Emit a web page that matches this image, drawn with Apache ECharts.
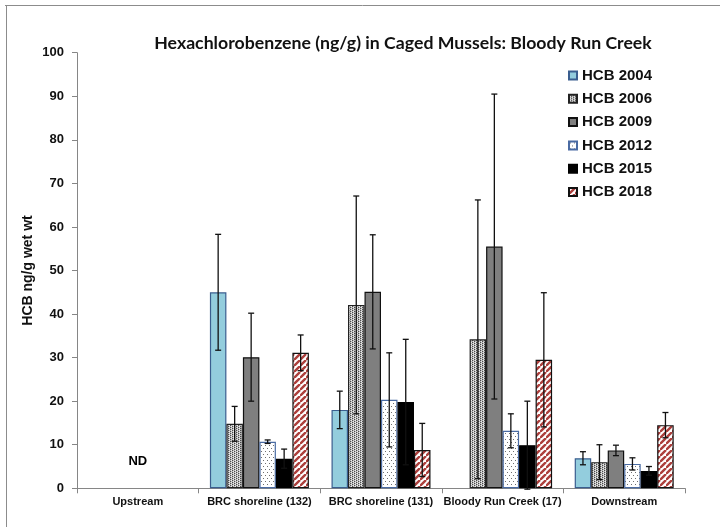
<!DOCTYPE html>
<html>
<head>
<meta charset="utf-8">
<script src="https://cdn.jsdelivr.net/npm/echarts@6/dist/echarts.min.js"></script>
<style>
  html, body { margin: 0; padding: 0; background: #ffffff; }
  #chart { width: 720px; height: 527px; }
</style>
</head>
<body>
<div id="chart"></div>
<script>
// Sampling sites along the creek
const categories = ['Upstream', 'BRC shoreline (132)', 'BRC shoreline (131)', 'Bloody Run Creek (17)', 'Downstream'];
const years = ['HCB 2004', 'HCB 2006', 'HCB 2009', 'HCB 2012', 'HCB 2015', 'HCB 2018'];

// Mean HCB concentration (ng/g wet wt); null = no sample
const hcb2004 = [null, 45.0, 18.0, null, 6.9];
const hcb2006 = [null, 14.8, 42.1, 34.2, 6.0];
const hcb2009 = [null, 30.1, 45.1, 55.5, 8.7];
const hcb2012 = [null, 10.7, 20.3, 13.2, 5.6];
const hcb2015 = [null, 6.8, 19.8, 9.9, 4.0];
const hcb2018 = [null, 31.1, 8.8, 29.5, 14.5];

// Standard deviation for each mean
const err2004 = [null, 13.3, 4.3, null, 1.5];
const err2006 = [null, 4.0, 25.0, 32.0, 4.0];
const err2009 = [null, 10.1, 13.1, 35.0, 1.2];
const err2012 = [null, 0.4, 10.8, 3.9, 1.4];
const err2015 = [null, 2.2, 14.4, 10.1, 1.0];
const err2018 = [null, 4.1, 6.1, 15.4, 2.9];

// Non-detect note at the upstream site
const ndCategory = 'Upstream';
const ndText = 'ND';
const ndY = 6.2;

const yTicks = { min: 0, max: 100, interval: 10 };

const means = [hcb2004, hcb2006, hcb2009, hcb2012, hcb2015, hcb2018];
const errs = [err2004, err2006, err2009, err2012, err2015, err2018];

// ---- fill patterns ----
function makeCanvas(w, h) {
  const c = document.createElement('canvas');
  c.width = w; c.height = h;
  return c;
}
function stipplePattern() {
  const c = makeCanvas(4, 4);
  const g = c.getContext('2d');
  g.fillStyle = '#b8b8b8'; g.fillRect(0, 0, 4, 4);
  g.fillStyle = '#4a4a4a';
  [[0, 0], [2, 1], [0, 2], [2, 3]].forEach(p => g.fillRect(p[0], p[1], 1, 1));
  g.fillStyle = '#ececec';
  [[1, 1], [3, 0], [1, 3], [3, 2]].forEach(p => g.fillRect(p[0], p[1], 1, 1));
  return c;
}
function sparseDotPattern() {
  const c = makeCanvas(4, 6);
  const g = c.getContext('2d');
  g.fillStyle = '#ffffff'; g.fillRect(0, 0, 4, 6);
  g.fillStyle = '#6f6f6f';
  g.fillRect(1, 1, 1, 1);
  g.fillRect(3, 4, 1, 1);
  return c;
}
function stripePattern() {
  const s = 6;
  const c = makeCanvas(s, s);
  const g = c.getContext('2d');
  g.fillStyle = '#ffffff'; g.fillRect(0, 0, s, s);
  g.strokeStyle = '#ad3f3c';
  g.lineWidth = 2.4;
  g.beginPath();
  g.moveTo(-s, s); g.lineTo(0, 0);
  g.moveTo(0, s); g.lineTo(s, 0);
  g.moveTo(s, 2 * s); g.lineTo(2 * s, s);
  g.stroke();
  return c;
}

const fills = [
  '#93cddd',
  { image: stipplePattern(), repeat: 'repeat' },
  '#7f7f7f',
  { image: sparseDotPattern(), repeat: 'repeat' },
  '#000000',
  { image: stripePattern(), repeat: 'repeat' }
];
const borders = ['#3a5e8f', '#222222', '#111111', '#4a6ba3', '#000000', '#111111'];

const catGap = 0.186;
const nSeries = years.length;

function errorRenderer(k) {
  return function (params, api) {
    const cat = api.value(0), v = api.value(1), e = api.value(2);
    const band = api.size([1, 0])[0];
    const used = band * (1 - catGap);
    const barW = used / nSeries;
    const x = api.coord([cat, 0])[0] - used / 2 + barW * (k + 0.5);
    const yTop = api.coord([cat, v + e])[1];
    const yBot = api.coord([cat, v - e])[1];
    const cap = 3;
    const style = { stroke: '#111111', lineWidth: 1.3 };
    return {
      type: 'group',
      children: [
        { type: 'line', shape: { x1: x, y1: yTop, x2: x, y2: yBot }, style },
        { type: 'line', shape: { x1: x - cap, y1: yTop, x2: x + cap, y2: yTop }, style },
        { type: 'line', shape: { x1: x - cap, y1: yBot, x2: x + cap, y2: yBot }, style }
      ]
    };
  };
}

const series = [];
years.forEach((name, k) => {
  series.push({
    name,
    type: 'bar',
    data: means[k],
    barGap: '0%',
    barCategoryGap: (catGap * 100) + '%',
    itemStyle: { color: fills[k], borderColor: borders[k], borderWidth: 1.2 },
    z: 2
  });
});
years.forEach((name, k) => {
  const data = [];
  means[k].forEach((v, i) => {
    if (v != null && errs[k][i] != null) data.push([i, v, errs[k][i]]);
  });
  series.push({
    name: name + ' SD',
    type: 'custom',
    renderItem: errorRenderer(k),
    data,
    encode: { x: 0, y: [1, 2] },
    z: 5,
    silent: true
  });
});
series.push({
  name: 'note',
  type: 'scatter',
  symbolSize: 0,
  data: [[ndCategory, ndY]],
  itemStyle: { color: '#000000', opacity: 1 },
  label: {
    show: true, position: [0, 0], align: 'center', verticalAlign: 'middle', formatter: ndText,
    fontFamily: 'Liberation Sans', fontWeight: 'bold', fontSize: 13,
    color: '#000000', opacity: 1, textBorderWidth: 0
  },
  silent: true
});

const chart = echarts.init(document.getElementById('chart'), null, { renderer: 'canvas' });
chart.setOption({
  animation: false,
  backgroundColor: '#ffffff',
  textStyle: { fontFamily: 'Liberation Sans' },
  title: {
    text: 'Hexachlorobenzene (ng/g) in Caged Mussels: Bloody Run Creek',
    left: 398, top: 29, textAlign: 'center',
    textStyle: { fontFamily: 'Lato', fontWeight: 'bold', fontSize: 17.7, color: '#111' }
  },
  legend: {
    data: years,
    orient: 'vertical',
    left: 563, top: 63,
    itemWidth: 8, itemHeight: 8, itemGap: 8.3,
    icon: 'rect',
    textStyle: { fontFamily: 'Liberation Sans', fontWeight: 'bold', fontSize: 15, lineHeight: 15, color: '#111' }
  },
  grid: { left: 77, top: 52.7, width: 608, height: 435.6, containLabel: false },
  xAxis: {
    type: 'category',
    data: categories,
    axisLine: { lineStyle: { color: '#868686', width: 1 } },
    axisTick: { show: true, length: 5, lineStyle: { color: '#868686' } },
    axisLabel: { margin: 8, fontFamily: 'Liberation Sans', fontWeight: 'bold', fontSize: 11, color: '#111', interval: 0 },
    splitLine: { show: false }
  },
  yAxis: {
    type: 'value',
    min: yTicks.min, max: yTicks.max, interval: yTicks.interval,
    name: 'HCB ng/g wet wt',
    nameLocation: 'middle',
    nameGap: 42,
    nameMoveOverlap: false,
    nameRotate: 90,
    nameTextStyle: { fontFamily: 'Liberation Sans', fontWeight: 'bold', fontSize: 14, color: '#111' },
    axisLine: { show: true, lineStyle: { color: '#868686', width: 1 } },
    axisTick: { show: true, length: 5, lineStyle: { color: '#868686' } },
    axisLabel: { margin: 13, fontFamily: 'Liberation Sans', fontWeight: 'bold', fontSize: 13, color: '#111' },
    splitLine: { show: false }
  },
  graphic: [
    { type: 'line', shape: { x1: 5, y1: 5.5, x2: 720, y2: 5.5 }, style: { stroke: '#8c8c8c', lineWidth: 1 }, silent: true },
    { type: 'line', shape: { x1: 6.5, y1: 5, x2: 6.5, y2: 527 }, style: { stroke: '#8c8c8c', lineWidth: 1 }, silent: true }
  ],
  series
});
</script>
</body>
</html>
